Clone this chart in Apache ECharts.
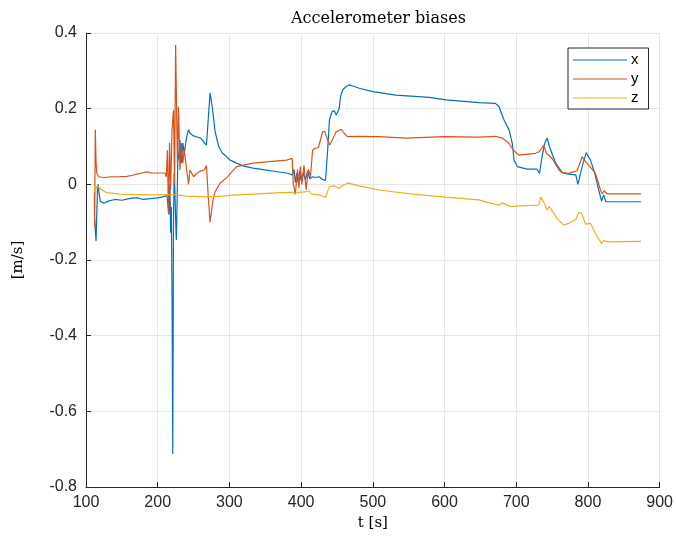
<!DOCTYPE html>
<html>
<head>
<meta charset="utf-8">
<title>Accelerometer biases</title>
<script src="https://cdn.jsdelivr.net/npm/echarts@6/dist/echarts.min.js"></script>
<style>
  html, body { margin: 0; padding: 0; background: #ffffff; }
  #chart { width: 676px; height: 541px; }
</style>
</head>
<body>
<div id="chart"></div>
<script>
// Estimated accelerometer bias per axis [m/s] over time t [s]
const seriesNames = ['x', 'y', 'z'];
const xTicks = [100, 200, 300, 400, 500, 600, 700, 800, 900];
const yTicks = [-0.8, -0.6, -0.4, -0.2, 0, 0.2, 0.4];

const tX = [112, 113, 114, 115, 116, 117, 118, 120, 125, 130, 140, 150, 160, 171, 180, 190, 200, 207,
  213, 215.5, 217, 218, 219, 220, 221, 222, 223, 224, 225, 226, 227, 228, 229, 231, 233, 235, 237,
  240.5, 243, 245, 250, 255, 260, 265, 268, 270, 273, 276, 280, 285, 290, 295, 300, 310, 320, 333,
  350, 365, 380, 388, 390, 392, 394, 396, 398, 400, 403, 406, 409, 412, 416, 420, 425, 430, 434,
  437, 439.5, 443, 446, 449, 451, 453, 455, 458, 462.6, 467, 472, 481, 500, 532, 579, 602, 648,
  671, 676, 683, 690, 694.5, 697, 701.5, 715, 729, 732.5, 736, 740, 743, 747, 755, 764, 773, 783,
  786, 792, 797.5, 803.5, 809.6, 815, 819, 822, 825, 874];
const biasX = [-0.09, -0.12, -0.15, -0.08, -0.02, 0.0, -0.02, -0.045, -0.05, -0.045, -0.04, -0.042,
  -0.038, -0.035, -0.04, -0.038, -0.036, -0.033,
  -0.03, -0.08, 0.0, -0.128, -0.06, -0.3, -0.713, -0.1, 0.03, -0.02, -0.094, -0.147, -0.05, 0.06,
  0.073, 0.117, 0.056, 0.109, 0.082,
  0.126, 0.144, 0.135, 0.128, 0.125, 0.122, 0.11, 0.104, 0.1, 0.242, 0.205, 0.14, 0.1, 0.083,
  0.075, 0.065, 0.056, 0.048, 0.043,
  0.038, 0.034, 0.03, 0.025, 0.04, 0.005, 0.03, 0.004, 0.035, 0.01, 0.03, 0.012, 0.035, 0.015,
  0.02, 0.018, 0.02, 0.013, 0.01,
  0.09, 0.17, 0.192, 0.195, 0.183, 0.18, 0.2, 0.232, 0.25, 0.258, 0.263, 0.26, 0.254, 0.245,
  0.236, 0.23, 0.223, 0.216,
  0.214, 0.205, 0.17, 0.144, 0.108, 0.064, 0.047, 0.04, 0.04, 0.029, 0.073, 0.11, 0.122, 0.096,
  0.056, 0.031, 0.027, 0.025,
  0.0, 0.047, 0.084, 0.064, 0.029, -0.015, -0.044, -0.028, -0.046, -0.046];

const tY = [111.6, 112, 113, 114, 115, 117.6, 125, 135, 145, 157, 165, 171, 178, 185, 192, 200, 210,
  212, 213.5, 215, 216.5, 218, 220, 222, 223.5, 225, 226, 227.5, 229, 231, 233, 235, 237, 240.5,
  243, 245, 250, 255, 260, 265, 268, 270, 270.5, 273, 277, 280, 287, 296, 310, 333, 356, 380,
  387.5, 389, 392, 395, 397, 399, 401, 404, 407, 410, 413, 416, 420, 424, 430, 433, 437, 440,
  444, 449, 456, 460, 464.5, 480, 509, 546, 600, 648, 671, 681, 690, 696, 704, 727, 732, 738.6,
  742, 750, 759.5, 764, 773, 785, 792, 795, 801, 810.5, 817.5, 820, 822.5, 826.7, 874];
const biasY = [-0.02, -0.112, 0.144, 0.06, 0.03, 0.02, 0.018, 0.02, 0.02, 0.021, 0.024, 0.027,
  0.03, 0.033, 0.03, 0.03, 0.03,
  0.02, 0.09, -0.076, 0.109, -0.015, 0.144, 0.197, 0.003, 0.368, 0.365, 0.056, 0.205, 0.038,
  0.109, 0.056, 0.09, 0.038,
  0.0, 0.038, 0.02, 0.03, 0.035, 0.038, 0.05, 0.05, -0.033, -0.1, -0.042, -0.02, 0.003, 0.017,
  0.047, 0.056, 0.06, 0.064,
  0.069, 0.003, -0.026, 0.04, -0.01, 0.047, 0.0, 0.05, -0.015, 0.04, 0.02, 0.09, 0.096, 0.096,
  0.139, 0.14, 0.117, 0.104,
  0.12, 0.139, 0.145, 0.135, 0.126, 0.127, 0.126, 0.122, 0.126, 0.125, 0.127, 0.122, 0.108,
  0.09, 0.077, 0.082, 0.086, 0.104,
  0.082, 0.069, 0.038, 0.031, 0.029, 0.036, 0.073, 0.064, 0.051, 0.029, -0.015, -0.025, -0.017,
  -0.025, -0.025];

const tZ = [112, 113, 114, 116, 120, 129, 147, 170, 194, 210, 222, 240, 268, 290, 310, 340, 370,
  388, 391, 396, 405, 411.6, 414, 425, 434, 439.5, 446, 452.5, 457, 464.6, 470, 481, 509, 555,
  602, 648, 662, 676, 681, 692, 704, 731.6, 734, 738, 743, 746, 757, 766, 772, 783, 787, 791,
  796.6, 803.5, 810.5, 819, 822, 829, 874];
const biasZ = [-0.005, -0.03, -0.01, -0.004, -0.012, -0.022, -0.026, -0.027, -0.028, -0.027,
  -0.027, -0.031, -0.033, -0.031, -0.028, -0.025, -0.022,
  -0.021, -0.026, -0.021, -0.02, -0.017, -0.026, -0.028, -0.034, -0.006, -0.004, -0.011, -0.004,
  0.003, 0.001, -0.004, -0.015, -0.026,
  -0.034, -0.041, -0.049, -0.055, -0.049, -0.059, -0.057, -0.055, -0.034, -0.045, -0.068, -0.059,
  -0.09, -0.108, -0.104, -0.093, -0.075, -0.076,
  -0.105, -0.103, -0.13, -0.156, -0.149, -0.152, -0.151];

const colors = ['#0072BD', '#D95319', '#EDB120'];
const axisColor = '#262626';
const gridColor = '#e6e6e6';

function pairs(ts, vs) {
  return ts.map((t, i) => [t, vs[i]]);
}

const chart = echarts.init(document.getElementById('chart'), null, { renderer: 'canvas' });

const lineSeries = [[tX, biasX], [tY, biasY], [tZ, biasZ]].map((d, i) => ({
  name: seriesNames[i],
  type: 'line',
  data: pairs(d[0], d[1]),
  showSymbol: false,
  symbol: 'none',
  animation: false,
  lineStyle: { color: colors[i], width: 1.2 },
  itemStyle: { color: colors[i] },
  z: 3 + i
}));

chart.setOption({
  backgroundColor: '#ffffff',
  animation: false,
  color: colors,
  title: {
    text: 'Accelerometer biases',
    left: 286,
    top: 6,
    textStyle: {
      fontFamily: 'DejaVu Serif',
      fontSize: 16,
      fontWeight: 'normal',
      color: '#000000'
    }
  },
  legend: {
    data: seriesNames,
    orient: 'vertical',
    left: 568,
    top: 48,
    icon: 'rect',
    itemWidth: 54,
    itemHeight: 1,
    itemGap: 3,
    padding: [4, 10, 3, 5],
    borderColor: axisColor,
    borderWidth: 1,
    backgroundColor: '#ffffff',
    textStyle: {
      fontFamily: 'Liberation Sans',
      fontSize: 15,
      lineHeight: 16,
      color: '#000000',
      padding: [0, 0, 0, -1]
    }
  },
  grid: {
    left: 86,
    right: 15,
    top: 33,
    bottom: 54,
    containLabel: false,
    show: false
  },
  xAxis: {
    type: 'value',
    min: xTicks[0],
    max: xTicks[xTicks.length - 1],
    interval: 100,
    name: 't [s]',
    nameLocation: 'middle',
    nameGap: 26,
    nameTextStyle: { fontFamily: 'DejaVu Serif', fontSize: 15, color: '#000000' },
    axisLine: { show: true, onZero: false, lineStyle: { color: axisColor, width: 1 } },
    axisTick: { show: true, inside: true, length: 5, lineStyle: { color: axisColor } },
    axisLabel: {
      margin: 8,
      fontFamily: 'Liberation Sans',
      fontSize: 16,
      color: axisColor
    },
    splitLine: { show: true, lineStyle: { color: gridColor, width: 1 } }
  },
  yAxis: {
    type: 'value',
    min: yTicks[0],
    max: yTicks[yTicks.length - 1],
    interval: 0.2,
    name: '[m/s]',
    nameLocation: 'middle',
    nameGap: 60,
    nameTextStyle: { fontFamily: 'DejaVu Serif', fontSize: 15, color: '#000000' },
    axisLine: { show: true, onZero: false, lineStyle: { color: axisColor, width: 1 } },
    axisTick: { show: true, inside: true, length: 5, lineStyle: { color: axisColor } },
    axisLabel: {
      margin: 9,
      fontFamily: 'Liberation Sans',
      fontSize: 16,
      color: axisColor,
      formatter: v => {
        const r = Math.round(v * 10) / 10;
        return r === 0 ? '0' : String(r);
      }
    },
    splitLine: { show: true, lineStyle: { color: gridColor, width: 1 } }
  },
  series: lineSeries
});
</script>
</body>
</html>
